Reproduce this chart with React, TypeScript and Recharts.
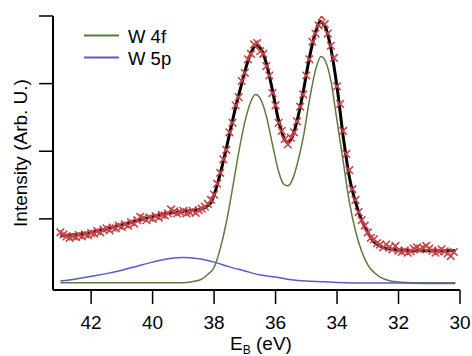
import { ComposedChart, Line, Scatter, XAxis, YAxis } from "recharts";

const FONT = '"Liberation Sans", Arial, Helvetica, sans-serif';

const xTicks = [42, 40, 38, 36, 34, 32, 30];
const yTicks = [1, 2, 3, 4];

const seriesNames = ["W 4f", "W 5p"];

// measured spectrum, 0.1 eV steps
const measuredEnergy = [
  43.0, 42.9, 42.8, 42.7, 42.6, 42.5, 42.4, 42.3, 42.2, 42.1,
  42.0, 41.9, 41.8, 41.7, 41.6, 41.5, 41.4, 41.3, 41.2, 41.1,
  41.0, 40.9, 40.8, 40.7, 40.6, 40.5, 40.4, 40.3, 40.2, 40.1,
  40.0, 39.9, 39.8, 39.7, 39.6, 39.5, 39.4, 39.3, 39.2, 39.1,
  39.0, 38.9, 38.8, 38.7, 38.6, 38.5, 38.4, 38.3, 38.2, 38.1,
  38.0, 37.9, 37.8, 37.7, 37.6, 37.5, 37.4, 37.3, 37.2, 37.1,
  37.0, 36.9, 36.8, 36.7, 36.6, 36.5, 36.4, 36.3, 36.2, 36.1,
  36.0, 35.9, 35.8, 35.7, 35.6, 35.5, 35.4, 35.3, 35.2, 35.1,
  35.0, 34.9, 34.8, 34.7, 34.6, 34.5, 34.4, 34.3, 34.2, 34.1,
  34.0, 33.9, 33.8, 33.7, 33.6, 33.5, 33.4, 33.3, 33.2, 33.1,
  33.0, 32.9, 32.8, 32.7, 32.6, 32.5, 32.4, 32.3, 32.2, 32.1,
  32.0, 31.9, 31.8, 31.7, 31.6, 31.5, 31.4, 31.3, 31.2, 31.1,
  31.0, 30.9, 30.8, 30.7, 30.6, 30.5, 30.4, 30.3, 30.2,
];
const measuredIntensity = [
  0.80, 0.77, 0.74, 0.72, 0.74, 0.73, 0.76, 0.74, 0.77, 0.76,
  0.79, 0.78, 0.82, 0.80, 0.84, 0.86, 0.83, 0.87, 0.86, 0.90,
  0.88, 0.92, 0.90, 0.95, 0.93, 0.98, 1.03, 1.01, 0.98, 1.02,
  1.00, 1.04, 1.02, 1.06, 1.05, 1.08, 1.14, 1.11, 1.08, 1.10,
  1.12, 1.08, 1.10, 1.12, 1.09, 1.13, 1.15, 1.18, 1.22, 1.28,
  1.36, 1.52, 1.68, 1.88, 2.02, 2.28, 2.42, 2.68, 2.80, 3.04,
  3.16, 3.36, 3.44, 3.58, 3.60, 3.48, 3.44, 3.26, 3.12, 2.86,
  2.68, 2.42, 2.30, 2.18, 2.10, 2.20, 2.28, 2.44, 2.66, 2.84,
  3.12, 3.36, 3.62, 3.74, 3.86, 3.99, 3.88, 3.74, 3.56, 3.38,
  2.96, 2.70, 2.30, 1.96, 1.72, 1.44, 1.28, 1.10, 0.98, 0.90,
  0.80, 0.72, 0.70, 0.64, 0.62, 0.58, 0.62, 0.58, 0.55, 0.60,
  0.53, 0.51, 0.53, 0.50, 0.52, 0.56, 0.58, 0.55, 0.57, 0.60,
  0.56, 0.53, 0.50, 0.52, 0.55, 0.52, 0.49, 0.45, 0.51,
];

// total fit envelope
const fitEnergy = [
  43.0, 42.5, 42.0, 41.5, 41.0, 40.5, 40.0, 39.5, 39.0, 38.6,
  38.3, 38.1, 37.9, 37.7, 37.5, 37.3, 37.1, 36.9, 36.7, 36.6,
  36.5, 36.3, 36.1, 35.9, 35.7, 35.6, 35.5, 35.3, 35.1, 34.9,
  34.7, 34.55, 34.4, 34.2, 34.0, 33.8, 33.6, 33.4, 33.2, 33.0,
  32.8, 32.6, 32.4, 32.2, 32.0, 31.5, 31.0, 30.5, 30.15,
];
const fitIntensity = [
  0.75, 0.77, 0.80, 0.85, 0.91, 0.97, 1.03, 1.08, 1.11, 1.13,
  1.17, 1.24, 1.50, 1.85, 2.25, 2.65, 3.00, 3.33, 3.54, 3.57,
  3.53, 3.30, 2.90, 2.45, 2.17, 2.13, 2.17, 2.45, 2.88, 3.38,
  3.76, 3.92, 3.86, 3.52, 2.95, 2.22, 1.62, 1.25, 0.98, 0.80,
  0.66, 0.60, 0.56, 0.55, 0.54, 0.53, 0.53, 0.53, 0.53,
];

// W 4f doublet component
const w4fEnergy = [
  43.0, 39.0, 38.6, 38.4, 38.2, 38.0, 37.8, 37.6, 37.4, 37.2,
  37.0, 36.8, 36.65, 36.5, 36.3, 36.1, 35.9, 35.75, 35.6, 35.45,
  35.3, 35.1, 34.9, 34.7, 34.52, 34.35, 34.2, 34.0, 33.8, 33.6,
  33.4, 33.2, 33.0, 32.8, 32.6, 32.4, 32.0, 31.5, 30.15,
];
const w4fIntensity = [
  0.055, 0.055, 0.08, 0.11, 0.18, 0.28, 0.56, 0.95, 1.45, 1.98,
  2.43, 2.74, 2.84, 2.78, 2.52, 2.10, 1.70, 1.52, 1.49, 1.58,
  1.80, 2.20, 2.75, 3.20, 3.40, 3.30, 3.04, 2.45, 1.85, 1.25,
  0.82, 0.52, 0.32, 0.21, 0.14, 0.10, 0.065, 0.055, 0.055,
];

// W 5p component
const w5pEnergy = [
  43.0, 42.5, 42.0, 41.5, 41.0, 40.5, 40.0, 39.5, 39.0, 38.5,
  38.0, 37.5, 37.0, 36.5, 36.0, 35.5, 35.0, 34.5, 34.0, 33.0,
  32.0, 31.0, 30.15,
];
const w5pIntensity = [
  0.08, 0.11, 0.15, 0.19, 0.24, 0.30, 0.36, 0.41, 0.43, 0.41,
  0.36, 0.29, 0.23, 0.17, 0.14, 0.10, 0.08, 0.07, 0.06, 0.05,
  0.05, 0.045, 0.045,
];

const RED = "#c4464a";
const GREEN = "#5b7b3e";
const BLUE = "#5b5bc4";

const toPoints = (xs: number[], ys: number[]) => xs.map((eV, i) => ({ eV, y: ys[i] }));

const measured = toPoints(measuredEnergy, measuredIntensity);
const fit = toPoints(fitEnergy, fitIntensity);
const w4f = toPoints(w4fEnergy, w4fIntensity);
const w5p = toPoints(w5pEnergy, w5pIntensity);

function Cross(props: any) {
  const { cx, cy } = props;
  if (cx == null || cy == null) return null;
  const r = 3.8;
  return (
    <path
      d={`M${cx - r},${cy - r}L${cx + r},${cy + r}M${cx - r},${cy + r}L${cx + r},${cy - r}`}
      stroke={RED}
      strokeWidth={1.6}
      fill="none"
    />
  );
}

const legendColors = [GREEN, BLUE];

export default function App() {
  return (
    <div style={{ position: "absolute", left: 0, top: 0, width: 472, height: 356, background: "#fff" }}>
      <ComposedChart width={472} height={356} margin={{ top: 16, right: 12, bottom: 0, left: 0 }}>
        <XAxis
          type="number"
          dataKey="eV"
          domain={[30, 43.24]}
          reversed
          ticks={xTicks}
          allowDataOverflow
          height={66}
          tickSize={14}
          tickMargin={12}
          axisLine={{ stroke: "#000", strokeWidth: 2 }}
          tickLine={{ stroke: "#000", strokeWidth: 1.5 }}
          tick={{ fontSize: 19, fill: "#000", fontFamily: FONT }}
        />
        <YAxis
          type="number"
          dataKey="y"
          domain={[-0.052, 4]}
          ticks={yTicks}
          allowDataOverflow
          width={53}
          tickSize={14}
          tickFormatter={() => ""}
          axisLine={{ stroke: "#000", strokeWidth: 2 }}
          tickLine={{ stroke: "#000", strokeWidth: 1.5 }}
        />
        <Scatter data={measured} dataKey="y" shape={Cross} isAnimationActive={false} />
        <Line data={w4f} dataKey="y" type="monotone" stroke={GREEN} strokeWidth={1.5} dot={false} isAnimationActive={false} />
        <Line data={w5p} dataKey="y" type="monotone" stroke={BLUE} strokeWidth={1.5} dot={false} isAnimationActive={false} />
        <Line data={fit} dataKey="y" type="monotone" stroke="#000" strokeWidth={3} dot={false} isAnimationActive={false} />
      </ComposedChart>
      <svg
        width={472}
        height={356}
        style={{ position: "absolute", left: 0, top: 0, pointerEvents: "none" }}
        fontFamily={FONT}
      >
        {seriesNames.map((name, i) => (
          <g key={name}>
            <line x1={84} x2={119} y1={35.5 + i * 22} y2={35.5 + i * 22} stroke={legendColors[i]} strokeWidth={1.8} />
            <text x={128} y={42.5 + i * 22} fontSize={18.5} fill="#000">
              {name}
            </text>
          </g>
        ))}
        <text x={27} y={153} fontSize={19} textAnchor="middle" transform="rotate(-90, 27, 153)" fill="#000">
          Intensity (Arb. U.)
        </text>
        <text x={261} y={350} fontSize={19} textAnchor="middle" fill="#000">
          E<tspan fontSize={12} dy={4}>B</tspan>
          <tspan dy={-4}> (eV)</tspan>
        </text>
      </svg>
    </div>
  );
}
